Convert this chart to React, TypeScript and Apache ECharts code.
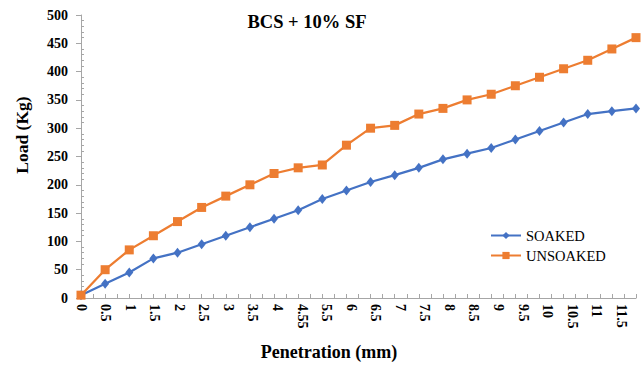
import React, { useEffect, useRef } from "react";
import * as echarts from "echarts";

const penetration = [0, 0.5, 1, 1.5, 2, 2.5, 3, 3.5, 4, 4.5, 5, 5.5, 6, 6.5, 7, 7.5, 8, 8.5, 9, 9.5, 10, 10.5, 11, 11.5];
const tickLabels = ["0", "0.5", "1", "1.5", "2", "2.5", "3", "3.5", "4", "4.55", "5.5", "6", "6.5", "7", "7.5", "8", "8.5", "9", "9.5", "10", "10.5", "11", "11.5"];
const soaked = [5, 25, 45, 70, 80, 95, 110, 125, 140, 155, 175, 190, 205, 217, 230, 245, 255, 265, 280, 295, 310, 325, 330, 335];
const unsoaked = [5, 50, 85, 110, 135, 160, 180, 200, 220, 230, 235, 270, 300, 305, 325, 335, 350, 360, 375, 390, 405, 420, 440, 460];
const yMin = 0;
const yMax = 500;
const yStep = 50;

const SERIF = "'Liberation Serif', 'Times New Roman', serif";
const AXIS_GREY = "#A6A6A6";

export default function App() {
  const ref = useRef<HTMLDivElement>(null);
  useEffect(() => {
    if (!ref.current) return;
    const chart = echarts.init(ref.current, undefined, { renderer: "svg" });
    const labelAxisMax = 22.6;
    chart.setOption({
      animation: false,
      backgroundColor: "#ffffff",
      grid: { left: 81, right: 6, top: 15, bottom: 67, containLabel: false },
      title: {
        text: "BCS + 10% SF",
        left: 302,
        top: 7,
        textAlign: "center",
        textStyle: { fontFamily: SERIF, fontWeight: "bold", fontSize: 18.5, color: "#000" },
      },
      legend: {
        orient: "vertical",
        left: 485,
        top: 223,
        itemWidth: 30,
        itemHeight: 9,
        itemGap: 5,
        textStyle: { fontFamily: SERIF, fontSize: 14.5, color: "#000" },
        data: ["SOAKED", "UNSOAKED"],
      },
      xAxis: [
        {
          type: "value",
          min: 0,
          max: 11.5,
          interval: 0.5,
          position: "bottom",
          axisLine: { show: true, lineStyle: { color: AXIS_GREY, width: 1 } },
          axisTick: { show: true, inside: true, length: 4, lineStyle: { color: AXIS_GREY } },
          minorTick: { show: true, splitNumber: 2, length: 4, lineStyle: { color: AXIS_GREY } },
          axisLabel: { show: false },
          splitLine: { show: false },
        },
        {
          type: "value",
          min: 0,
          max: labelAxisMax,
          interval: 1,
          position: "bottom",
          axisLine: { show: false },
          axisTick: { show: false },
          splitLine: { show: false },
          axisLabel: {
            show: true,
            rotate: -90,
            margin: 6,
            fontFamily: SERIF,
            fontWeight: "bold",
            fontSize: 14,
            color: "#000",
            showMaxLabel: false,
            formatter: (v: number) => (Number.isInteger(v) && tickLabels[v] !== undefined ? tickLabels[v] : ""),
          },
        },
      ],
      yAxis: [
        {
          type: "value",
          min: yMin,
          max: yMax,
          interval: yStep,
          axisLine: { show: true, lineStyle: { color: AXIS_GREY, width: 1 } },
          axisTick: { show: true, inside: false, length: 5, lineStyle: { color: AXIS_GREY } },
          axisLabel: { margin: 13, fontFamily: SERIF, fontWeight: "bold", fontSize: 14, color: "#000" },
          splitLine: { show: false },
        },
        {
          type: "value",
          min: yMin,
          max: yMax,
          interval: yStep,
          position: "left",
          axisLine: { show: false },
          axisTick: { show: false, inside: true },
          minorTick: { show: true, splitNumber: 5, length: 3, lineStyle: { color: AXIS_GREY } },
          axisLabel: { show: false },
          splitLine: { show: false },
        },
      ],
      graphic: [
        {
          type: "text",
          x: 22,
          y: 135,
          rotation: Math.PI / 2,
          style: {
            text: "Load (Kg)",
            fontFamily: SERIF,
            fontWeight: "bold",
            fontSize: 17.5,
            fill: "#000",
            align: "center",
            verticalAlign: "middle",
          },
        },
        {
          type: "text",
          x: 329,
          y: 352,
          style: {
            text: "Penetration (mm)",
            fontFamily: SERIF,
            fontWeight: "bold",
            fontSize: 18,
            fill: "#000",
            align: "center",
            verticalAlign: "middle",
          },
        },
      ],
      series: [
        {
          name: "SOAKED",
          type: "line",
          xAxisIndex: 0,
          yAxisIndex: 0,
          data: penetration.map((p, i) => [p, soaked[i]]),
          symbol: "diamond",
          symbolSize: [8, 10],
          lineStyle: { color: "#4472C4", width: 2.25 },
          itemStyle: { color: "#4472C4" },
        },
        {
          name: "UNSOAKED",
          type: "line",
          xAxisIndex: 0,
          yAxisIndex: 0,
          data: penetration.map((p, i) => [p, unsoaked[i]]),
          symbol: "rect",
          symbolSize: 9,
          lineStyle: { color: "#ED7D31", width: 2.25 },
          itemStyle: { color: "#ED7D31" },
        },
      ],
    });
    return () => chart.dispose();
  }, []);
  return <div ref={ref} style={{ position: "absolute", left: 0, top: 0, width: 642, height: 365 }} />;
}
